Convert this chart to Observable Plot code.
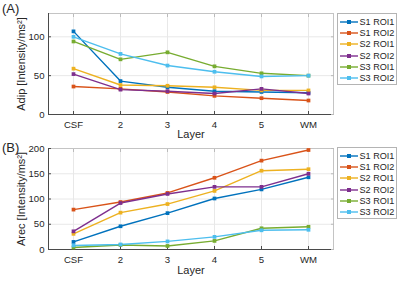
<!DOCTYPE html>
<html>
<head>
<meta charset="utf-8">
<script src="https://cdn.jsdelivr.net/npm/d3@7"></script>
<script src="https://cdn.jsdelivr.net/npm/@observablehq/plot@0.6"></script>
<style>
  html, body { margin: 0; padding: 0; background: #fff; }
  #wrap { position: relative; width: 400px; height: 287px; font-family: "Liberation Sans", Arial, sans-serif; color: #262626; overflow: hidden; }
  .panel { position: absolute; left: 0; }
  .tag { position: absolute; font-size: 13px; line-height: 13px; }
  .legend { position: absolute; left: 337px; width: 60px; border: 1px solid #b4b4b4; background: #fff; box-sizing: border-box; }
  .item { position: absolute; left: 0; height: 11px; display: flex; align-items: center; font-size: 9.1px; white-space: nowrap; }
  .item svg { margin-left: 2px; margin-right: 1.5px; }
</style>
</head>
<body>
<div id="wrap"></div>
<script>
const layers = ["CSF", "2", "3", "4", "5", "WM"];
const seriesNames = ["S1 ROI1", "S1 ROI2", "S2 ROI1", "S2 ROI2", "S3 ROI1", "S3 ROI2"];
const seriesColors = ["#0072BD", "#D95319", "#EDB120", "#7E2F8E", "#77AC30", "#4DBEEE"];

// Panel A: Adip
const adipS1ROI1 = [107, 43, 35, 30, 29, 28];
const adipS1ROI2 = [36, 33, 29, 24, 21, 18];
const adipS2ROI1 = [59, 38, 37, 35, 31, 31];
const adipS2ROI2 = [52, 32, 30, 27, 33, 27];
const adipS3ROI1 = [94, 71, 80, 62, 53, 50];
const adipS3ROI2 = [100, 78, 63, 55, 49, 50];

// Panel B: Arec
const arecS1ROI1 = [15, 46, 72, 101, 119, 143];
const arecS1ROI2 = [79, 94, 112, 142, 176, 197];
const arecS2ROI1 = [31, 73, 90, 116, 156, 159];
const arecS2ROI2 = [36, 92, 110, 124, 124, 150];
const arecS3ROI1 = [4, 9, 7, 17, 42, 45];
const arecS3ROI2 = [8, 10, 16, 25, 38, 39];

const adipSeries = [adipS1ROI1, adipS1ROI2, adipS2ROI1, adipS2ROI2, adipS3ROI1, adipS3ROI2];
const arecSeries = [arecS1ROI1, arecS1ROI2, arecS2ROI1, arecS2ROI2, arecS3ROI1, arecS3ROI2];

function toRows(seriesList) {
  const rows = [];
  seriesList.forEach((vals, i) => vals.forEach((v, j) => rows.push({series: seriesNames[i], layer: layers[j], value: v})));
  return rows;
}

function panel({rows, height, marginTop, marginBottom, yDomain, yTicks, yLabel, labelOffsetX}) {
  const blank = () => "";
  return Plot.plot({
    width: 400, height,
    marginTop, marginBottom, marginLeft: 48, marginRight: 67,
    style: {fontFamily: '"Liberation Sans", Arial, sans-serif', fontSize: "9.6px", color: "#262626", background: "transparent", overflow: "visible"},
    x: {type: "point", domain: layers, padding: 0.5},
    y: {domain: yDomain},
    color: {domain: seriesNames, range: seriesColors},
    marks: [
      Plot.gridX({stroke: "#e8e8e8", strokeOpacity: 1}),
      Plot.gridY(yTicks, {stroke: "#e8e8e8", strokeOpacity: 1}),
      Plot.frame({stroke: "#c4c4c4"}),
      Plot.frame({anchor: "bottom", stroke: "#4a4a4a"}),
      Plot.frame({anchor: "left", stroke: "#4a4a4a"}),
      Plot.axisX({tickSize: -3, tickFormat: blank, label: null, stroke: "#4a4a4a"}),
      Plot.axisX({anchor: "top", tickSize: -3, tickFormat: blank, label: null, stroke: "#bbbbbb"}),
      Plot.axisY(yTicks, {tickSize: -3, tickFormat: blank, label: null, stroke: "#4a4a4a"}),
      Plot.axisY(yTicks, {anchor: "right", tickSize: -3, tickFormat: blank, label: null, stroke: "#bbbbbb"}),
      Plot.axisX({tickSize: 0, tickPadding: 7, label: null}),
      Plot.axisX({ticks: [], label: "Layer", labelAnchor: "center", labelArrow: "none", labelOffset: labelOffsetX, fontSize: 11}),
      Plot.axisY(yTicks, {tickSize: 0, tickPadding: 4, label: null}),
      Plot.axisY({ticks: [], label: yLabel, labelAnchor: "center", labelArrow: "none", labelOffset: 31, fontSize: 11}),
      Plot.line(rows, {x: "layer", y: "value", z: "series", stroke: "series", strokeWidth: 1.4}),
      Plot.dot(rows, {x: "layer", y: "value", fill: "series", symbol: "square", r: 2.1})
    ]
  });
}

const wrap = document.getElementById("wrap");

const a = panel({rows: toRows(adipSeries), height: 140, marginTop: 13, marginBottom: 26, yDomain: [0, 130], yTicks: [0, 50, 100], yLabel: "Adip [Intensity/ms²]", labelOffsetX: 23});
a.classList.add("panel"); a.style.top = "0px";
wrap.appendChild(a);

const b = panel({rows: toRows(arecSeries), height: 147, marginTop: 8, marginBottom: 38, yDomain: [0, 200], yTicks: [0, 50, 100, 150, 200], yLabel: "Arec [Intensity/ms²]", labelOffsetX: 24});
b.classList.add("panel"); b.style.top = "140px";
wrap.appendChild(b);

function addTag(text, left, top) {
  const d = document.createElement("div");
  d.className = "tag"; d.textContent = text;
  d.style.left = left + "px"; d.style.top = top + "px";
  wrap.appendChild(d);
}
addTag("(A)", 2, 2);
addTag("(B)", 2, 141);

function addLegend(top, height) {
  const lg = document.createElement("div");
  lg.className = "legend";
  lg.style.top = top + "px"; lg.style.height = height + "px";
  seriesNames.forEach((name, i) => {
    const it = document.createElement("div");
    it.className = "item";
    it.style.top = (2.2 + i * 11.3) + "px";
    it.innerHTML = `<svg width="18" height="8"><line x1="0" y1="4" x2="18" y2="4" stroke="${seriesColors[i]}" stroke-width="1.4"/><rect x="7" y="2" width="4" height="4" fill="${seriesColors[i]}"/></svg><span>${name}</span>`;
    lg.appendChild(it);
  });
  wrap.appendChild(lg);
}
addLegend(13, 72);
addLegend(147, 72);
</script>
</body>
</html>
